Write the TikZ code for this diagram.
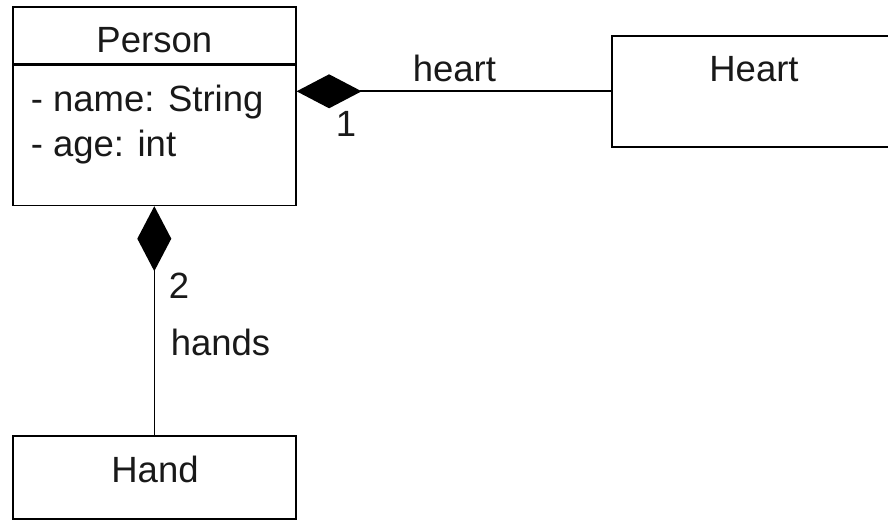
\documentclass[tikz,border=0pt]{standalone}
\usepackage{fontspec}
\setmainfont{Liberation Sans}
\usetikzlibrary{arrows.meta,positioning}

\begin{document}
\begin{tikzpicture}[x=1pt, y=-1pt, line width=1.6pt,
    umlbox/.style={draw, rectangle, inner sep=0pt, anchor=north west},
    umltext/.style={anchor=base west, inner sep=0pt, text=black!90, font=\fontsize{36.5}{44}\selectfont},
    composition/.style={-{Diamond[length=65pt,width=34pt]}}]

    \useasboundingbox (0,0) rectangle (888,521);
    \clip (0,0) rectangle (888,521);

    % Person class
    \node[umlbox, minimum width=283pt, minimum height=57pt] (persontitle) at (12,6) {};
    \node[umlbox, minimum width=283pt, minimum height=140pt] (personattr) at (persontitle.south west) {};
    \node[umltext, anchor=base] (personname) at (persontitle.center |- 0,53) {Person};
    \node[umltext] (attrname) at (30,112) {- name: String};
    \node[umltext] (attrage) at (30,157) {- age: int};

    % Heart and Hand classes
    \node[umlbox, minimum width=286pt, minimum height=111pt] (heartbox) at (611,35) {};
    \node[umltext, anchor=base] (heartname) at (754,82) {Heart};
    \node[umlbox, minimum width=283pt, minimum height=83pt] (handbox) at (12,435) {};
    \node[umltext, anchor=base] (handname) at (155,482) {Hand};

    % Compositions
    \draw[composition] (heartbox.west) -- (heartbox.west -| personattr.east);
    \draw[composition] (handbox.north) -- (personattr.south);

    % Labels
    \node[umltext] (heartrole) at (412,82) {heart};
    \node[umltext] (heartmult) at (335,137) {1};
    \node[umltext] (handmult) at (168,298) {2};
    \node[umltext] (handrole) at (170,355) {hands};
\end{tikzpicture}
\end{document}
